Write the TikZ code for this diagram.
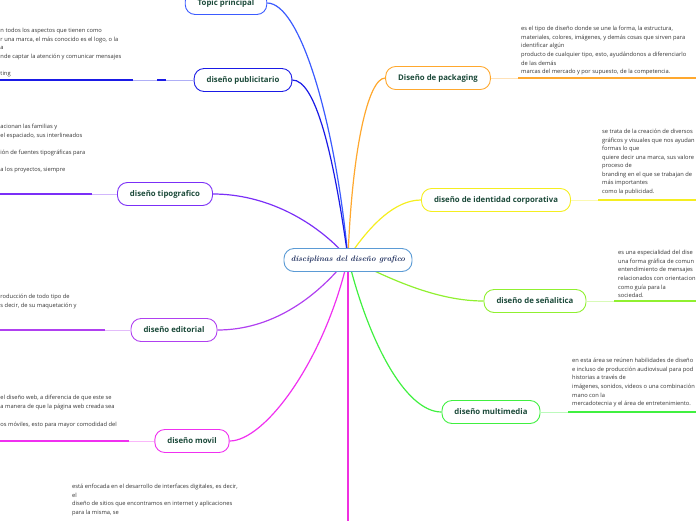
\documentclass[tikz,border=0pt]{standalone}
\usepackage{fontspec}
\setmainfont{Open Sans}
\newfontfamily\ctrfont{Latin Modern Roman}
\definecolor{lbl}{HTML}{1C4A3A}
\definecolor{ctrb}{HTML}{5B9BD5}
\definecolor{ctrt}{HTML}{1A2A5A}
\definecolor{cTopic}{HTML}{3B5BFF}
\definecolor{cPub}{HTML}{1A1AE6}
\definecolor{cTipo}{HTML}{7B2FF7}
\definecolor{cEdit}{HTML}{B040F0}
\definecolor{cMov}{HTML}{F030F0}
\definecolor{cBot}{HTML}{F030E0}
\definecolor{cPack}{HTML}{FFA82E}
\definecolor{cIdent}{HTML}{F5EE20}
\definecolor{cSen}{HTML}{90F030}
\definecolor{cMult}{HTML}{40F040}
\definecolor{txtc}{HTML}{333333}
\tikzset{
  topicbox/.style={draw=#1, line width=0.9pt, fill=white, rounded corners=10pt,
    minimum height=23pt, inner xsep=12.5pt, inner ysep=0pt,
    font=\fontsize{7.8}{9}\selectfont\bfseries, text=lbl},
  conn/.style={draw=#1, line width=1.2pt},
  lite/.style={draw=#1!35, line width=1pt},
  under/.style={draw=#1, line width=1.6pt},
  txt/.style={inner sep=0pt, anchor=base west, font=\fontsize{5.75}{6}\selectfont, text=txtc}
}
\begin{document}
\begin{tikzpicture}[x=1pt,y=-1pt]
\useasboundingbox (0,0) rectangle (696,520);
\coordinate (ctr) at (348,258);

% branch nodes
\node[topicbox=cTopic] (topic) at (226,3) {Topic principal};
\node[topicbox=cPub] (pub) at (243,80) {diseño publicitario};
\node[topicbox=cTipo] (tipo) at (165,194) {diseño tipografico};
\node[topicbox=cEdit] (edit) at (174,330) {diseño editorial};
\node[topicbox=cMov] (mov) at (192,441) {diseño movil};
\node[topicbox=cPack] (pack) at (438,78) {Diseño de packaging};
\node[topicbox=cIdent] (ident) at (496,200) {diseño de identidad corporativa};
\node[topicbox=cSen] (sen) at (535,301) {diseño de señalitica};
\node[topicbox=cMult] (mult) at (491,412) {diseño multimedia};
\coordinate (botend) at (348,521);

% connectors to centre
\draw[conn=cTopic] (topic.east) .. controls (300,3) and (335,120) .. (ctr);
\draw[conn=cPub] (pub.east) .. controls (315,80) and (333,150) .. (ctr);
\draw[conn=cTipo] (tipo.east) .. controls (265,194) and (315,220) .. (ctr);
\draw[conn=cEdit] (edit.east) .. controls (270,330) and (315,300) .. (ctr);
\draw[conn=cMov] (mov.east) .. controls (265,441) and (325,360) .. (ctr);
\draw[conn=cBot] (ctr) -- (botend);
\draw[conn=cPack] (pack.west) .. controls (368,78) and (352,150) .. (ctr);
\draw[conn=cIdent] (ident.west) .. controls (395,200) and (370,225) .. (ctr);
\draw[conn=cSen] (sen.west) .. controls (440,301) and (395,282) .. (ctr);
\draw[conn=cMult] (mult.west) .. controls (405,412) and (368,340) .. (ctr);

% centre node
\node[draw=ctrb, line width=0.9pt, fill=white, rounded corners=10pt, minimum width=128pt,
  minimum height=23pt, inner sep=0pt, text=ctrt,
  font=\ctrfont\fontsize{7.9}{10}\selectfont\bfseries\itshape] (main) at (348,260) {disciplinas del diseño grafico};

% left side lines and texts
\coordinate (pubL) at (0,80);
\coordinate (pubA) at (133,80);
\coordinate (pubB) at (157,80);
\coordinate (pubC) at (166,80);
\draw[lite=cPub] (pub.west) -- (pubA);
\draw[under=cPub] (pubA) -- (pubL);
\draw[under=cPub] (pubB) -- (pubC);
\foreach \t [count=\i] in {{n todos los aspectos que tienen como},{r una marca, el más conocido es el logo, o la},{a},{nde captar la atención y comunicar mensajes},{},{ting}}
  \node[txt, name=pubt\i] at (0.3,{31+1.6+(\i-1)*8.65}) {\t};

\coordinate (tipoL) at (0,194);
\coordinate (tipoA) at (92,194);
\draw[lite=cTipo] (tipo.west) -- (tipoA);
\draw[under=cTipo] (tipoA) -- (tipoL);
\foreach \t [count=\i] in {{acionan las familias y},{el espaciado, sus interlineados},{},{ión de fuentes tipográficas para},{},{a los proyectos, siempre}}
  \node[txt, name=tipot\i] at (0.3,{127+1.6+(\i-1)*8.65}) {\t};

\coordinate (editL) at (0,330);
\coordinate (editA) at (105,330);
\draw[lite=cEdit] (edit.west) -- (editA);
\draw[under=cEdit] (editA) -- (editL);
\foreach \t [count=\i] in {{roducción de todo tipo de},{s decir, de su maquetación y}}
  \node[txt, name=editt\i] at (0.3,{297+1.6+(\i-1)*8.65}) {\t};

\coordinate (movL) at (0,441);
\coordinate (movA) at (129,441);
\draw[lite=cMov] (mov.west) -- (movA);
\draw[under=cMov] (movA) -- (movL);
\foreach \t [count=\i] in {{el diseño web, a diferencia de que este se},{a manera de que la página web creada sea},{},{os móviles, esto para mayor comodidad del}}
  \node[txt, name=movt\i] at (0.3,{398+1.6+(\i-1)*8.9}) {\t};

\foreach \t [count=\i] in {{está enfocada en el desarrollo de interfaces digitales, es decir,},{el},{diseño de sitios que encontramos en internet y aplicaciones},{para la misma, se}}
  \node[txt, name=bott\i] at (72,{487+1.6+(\i-1)*8.65}) {\t};

% right side lines and texts
\coordinate (packR) at (696,78);
\coordinate (packA) at (518,78);
\draw[lite=cPack] (pack.east) -- (packA);
\draw[under=cPack] (packA) -- (packR);
\foreach \t [count=\i] in {{es el tipo de diseño donde se une la forma, la estructura,},{materiales, colores, imágenes, y demás cosas que sirven para},{identificar algún},{producto de cualquier tipo, esto, ayudándonos a diferenciarlo},{de las demás},{marcas del mercado y por supuesto, de la competencia.}}
  \node[txt, name=packt\i] at (521,{29+1.6+(\i-1)*8.65}) {\t};

\coordinate (identR) at (696,200);
\coordinate (identA) at (598,200);
\draw[lite=cIdent] (ident.east) -- (identA);
\draw[under=cIdent] (identA) -- (identR);
\foreach \t [count=\i] in {{se trata de la creación de diversos},{gráficos y visuales que nos ayudan},{formas lo que},{quiere decir una marca, sus valore},{proceso de},{branding en el que se trabajan de},{más importantes},{como la publicidad.}}
  \node[txt, name=identt\i] at (602,{132+1.6+(\i-1)*8.55}) {\t};

\coordinate (senR) at (696,301);
\coordinate (senA) at (614,301);
\draw[lite=cSen] (sen.east) -- (senA);
\draw[under=cSen] (senA) -- (senR);
\foreach \t [count=\i] in {{es una especialidad del dise},{una forma gráfica de comun},{entendimiento de mensajes},{relacionados con orientacion},{como guía para la},{sociedad.}}
  \node[txt, name=sent\i] at (618,{253+1.6+(\i-1)*8.6}) {\t};

\coordinate (multR) at (696,412);
\coordinate (multA) at (568,412);
\draw[lite=cMult] (mult.east) -- (multA);
\draw[under=cMult] (multA) -- (multR);
\foreach \t [count=\i] in {{en esta área se reúnen habilidades de diseño},{e incluso de producción audiovisual para pod},{historias a través de},{imágenes, sonidos, videos o una combinación},{mano con la},{mercadotecnia y el área de entretenimiento.}}
  \node[txt, name=multt\i] at (572,{361+1.6+(\i-1)*8.6}) {\t};
\end{tikzpicture}
\end{document}
